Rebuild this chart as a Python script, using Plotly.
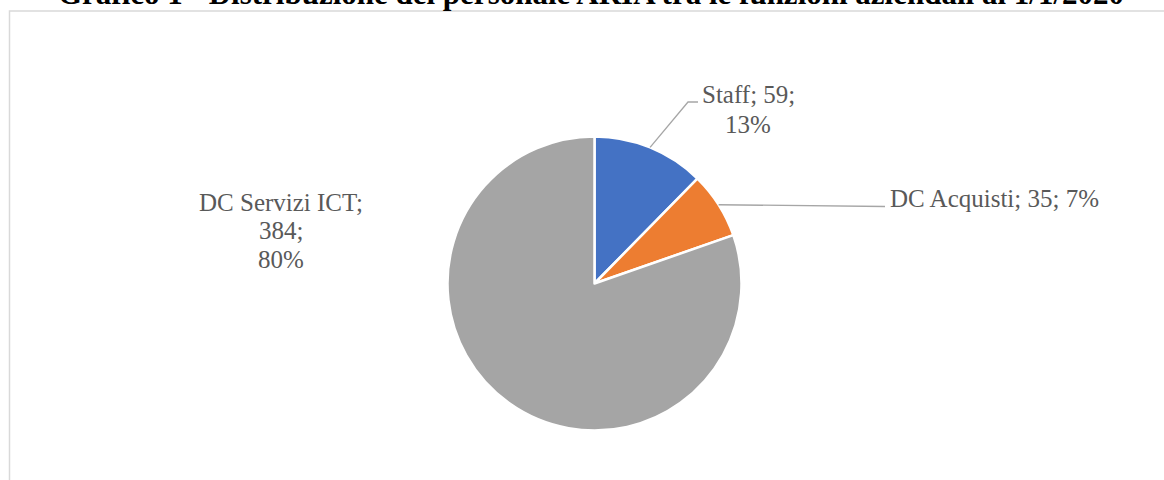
import numpy as np
import plotly.graph_objects as go

# Headcount per business function
categories = ["Staff", "DC Acquisti", "DC Servizi ICT"]
headcount = [59, 35, 384]
pct_labels = ["13%", "7%", "80%"]
colors = ["#4472C4", "#ED7D31", "#A5A5A5"]

title_text = "Grafico 1 - Distribuzione del personale ARIA tra le funzioni aziendali al 1/1/2020"

W, H = 1164, 480
CX, CY, R = 594.5, 283.5, 147.0  # pie centre and radius in pixels


def px(x):
    return x / W


def py(y):
    return 1 - y / H


LABEL_FONT = dict(family="Liberation Serif, Times New Roman, serif", size=25, color="#595959")
LEADER = dict(color="#A6A6A6", width=1.3)

fig = go.Figure(
    go.Pie(
        labels=categories,
        values=headcount,
        sort=False,
        direction="clockwise",
        rotation=0,
        marker=dict(colors=colors, line=dict(color="white", width=2.5)),
        textinfo="none",
        hoverinfo="label+value+percent",
        showlegend=False,
        domain=dict(x=[px(CX - R), px(CX + R)], y=[py(CY + R), py(CY - R)]),
    )
)

# Mid-angle of each slice (clockwise from 12 o'clock), used to anchor leader lines
vals = np.array(headcount, dtype=float)
cum = np.cumsum(vals)
mid = (cum - vals / 2) / vals.sum() * 2 * np.pi
edge = [(CX + R * np.sin(a), CY - R * np.cos(a)) for a in mid]

shapes = []
# Staff: diagonal leader with a short horizontal tail
x0, y0 = edge[0]
shapes.append(dict(type="path", xref="paper", yref="paper",
                   path=f"M {px(x0)},{py(y0)} L {px(688)},{py(102)} L {px(698)},{py(102)}",
                   line=LEADER))
# DC Acquisti: straight leader to the label
x1, y1 = edge[1]
shapes.append(dict(type="line", xref="paper", yref="paper",
                   x0=px(x1), y0=py(y1), x1=px(885), y1=py(206.5), line=LEADER))

# Chart area frame
shapes.append(dict(type="rect", xref="paper", yref="paper",
                   x0=px(9.5), y0=py(H + 20), x1=px(W + 20), y1=py(11),
                   line=dict(color="#D9D9D9", width=1.5), fillcolor="rgba(0,0,0,0)",
                   layer="below"))

annotations = []


def line_label(text, x, baseline, xanchor="center"):
    annotations.append(dict(text=text, x=px(x), y=py(baseline - 8), xref="paper", yref="paper",
                            xanchor=xanchor, yanchor="middle", showarrow=False,
                            font=LABEL_FONT))


line_label(f"{categories[0]}; {headcount[0]};", 748, 103)
line_label(pct_labels[0], 748, 132.5)
line_label(f"{categories[1]}; {headcount[1]}; {pct_labels[1]}", 888, 206, xanchor="left")
line_label(f"{categories[2]};", 281, 210.5)
line_label(f"{headcount[2]};", 281, 238.5)
line_label(pct_labels[2], 281, 267)

# Title sits above the frame; its upper part runs past the top edge of the page
annotations.append(dict(text=f"<b>{title_text}</b>", x=px(591), y=py(12.8), xref="paper", yref="paper",
                        xanchor="center", yanchor="bottom", showarrow=False,
                        font=dict(family="Liberation Serif, Times New Roman, serif", size=31, color="#000000")))

fig.update_layout(
    width=W, height=H,
    margin=dict(l=0, r=0, t=0, b=0),
    paper_bgcolor="white",
    plot_bgcolor="white",
    shapes=shapes,
    annotations=annotations,
)

fig.write_html("out.html")
